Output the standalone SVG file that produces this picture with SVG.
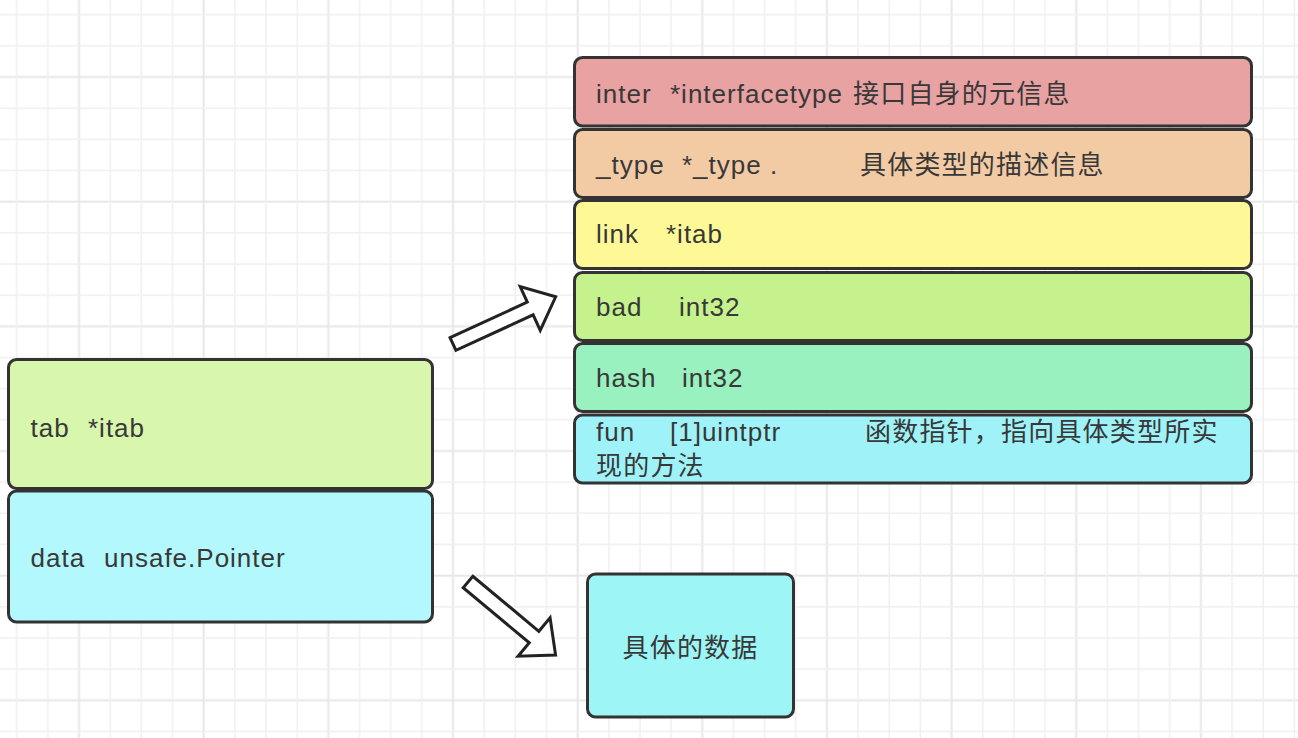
<svg xmlns="http://www.w3.org/2000/svg" width="1298" height="738" viewBox="0 0 1298 738">
<style>
.box{stroke:#333;stroke-width:3}
.t{font-family:"Liberation Sans","Noto Sans CJK SC",sans-serif;font-size:26px;letter-spacing:1px;fill:#383838}
.c{font-family:"Noto Sans CJK SC",sans-serif;font-size:26px;letter-spacing:1.2px}
.arrow{fill:#fff;stroke:#222;stroke-width:3;stroke-linejoin:miter}
</style>
<defs>
<pattern id="grid" patternUnits="userSpaceOnUse" x="63.42" y="61.42" width="124.65" height="124.65">
<rect x="14.6" y="0" width="2" height="124.65" fill="#e7e7e7"/>
<rect x="0" y="14.6" width="124.65" height="2" fill="#e7e7e7"/>
<rect x="46" y="0" width="1.6" height="124.65" fill="#f0f0f0"/>
<rect x="77.2" y="0" width="1.6" height="124.65" fill="#f0f0f0"/>
<rect x="108.3" y="0" width="1.6" height="124.65" fill="#f0f0f0"/>
<rect x="0" y="46" width="124.65" height="1.6" fill="#f0f0f0"/>
<rect x="0" y="77.2" width="124.65" height="1.6" fill="#f0f0f0"/>
<rect x="0" y="108.3" width="124.65" height="1.6" fill="#f0f0f0"/>
</pattern>
</defs>
<rect width="1298" height="738" fill="#fff"/>
<rect width="1298" height="738" fill="url(#grid)"/>

<g id="iface">
<g id="tab">
<rect class="box" x="8.5" y="359.5" width="424" height="129" rx="8" fill="#d9f6ad"/>
<text class="t" x="30.5" y="437">tab<tspan x="88">*itab</tspan></text>
</g>
<g id="data">
<rect class="box" x="8.5" y="491" width="424" height="131" rx="8" fill="#b3f8fc"/>
<text class="t" x="30.5" y="567">data<tspan x="104">unsafe.Pointer</tspan></text>
</g>
</g>

<g id="itab">
<g id="inter">
<rect class="box" x="574.5" y="57.5" width="677" height="68.5" rx="8" fill="#e8a2a2"/>
<text class="t" x="596" y="103">inter<tspan x="670">*interfacetype</tspan><tspan class="c" x="853">接口自身的元信息</tspan></text>
</g>
<g id="type">
<rect class="box" x="574.5" y="129.5" width="677" height="68" rx="8" fill="#f2cba5"/>
<text class="t" x="596" y="174">_type<tspan x="682">*_type .</tspan><tspan class="c" x="860">具体类型的描述信息</tspan></text>
</g>
<g id="link">
<rect class="box" x="574.5" y="200.5" width="677" height="68" rx="8" fill="#fff897"/>
<text class="t" x="596" y="243">link<tspan x="666">*itab</tspan></text>
</g>
<g id="bad">
<rect class="box" x="574.5" y="272.5" width="677" height="68" rx="8" fill="#c6f28e"/>
<text class="t" x="596" y="316">bad<tspan x="679">int32</tspan></text>
</g>
<g id="hash">
<rect class="box" x="574.5" y="343.5" width="677" height="68" rx="8" fill="#99f1bf"/>
<text class="t" x="596" y="387">hash<tspan x="682">int32</tspan></text>
</g>
<g id="fun">
<rect class="box" x="574.5" y="415" width="677" height="68" rx="8" fill="#9ff3f8"/>
<text class="t" x="596" y="441">fun<tspan x="670">[1]uintptr</tspan><tspan class="c" x="865">函数指针，指向具体类型所实</tspan></text>
<text class="t" x="596" y="475"><tspan class="c">现的方法</tspan></text>
</g>
</g>

<g id="concrete">
<rect class="box" x="587.5" y="574" width="206" height="143" rx="8" fill="#9ef5f6"/>
<text class="t" x="690.5" y="657" text-anchor="middle"><tspan class="c">具体的数据</tspan></text>
</g>

<g id="connectors">
<polygon class="arrow" transform="translate(453,344) rotate(-24.7)" points="0,-7 85,-7 85,-24 113,0 85,24 85,7 0,7"/>
<polygon class="arrow" transform="translate(468,582) rotate(39.8)" points="0,-7.5 86,-7.5 86,-25 114,0 86,25 86,7.5 0,7.5"/>
</g>
</svg>
